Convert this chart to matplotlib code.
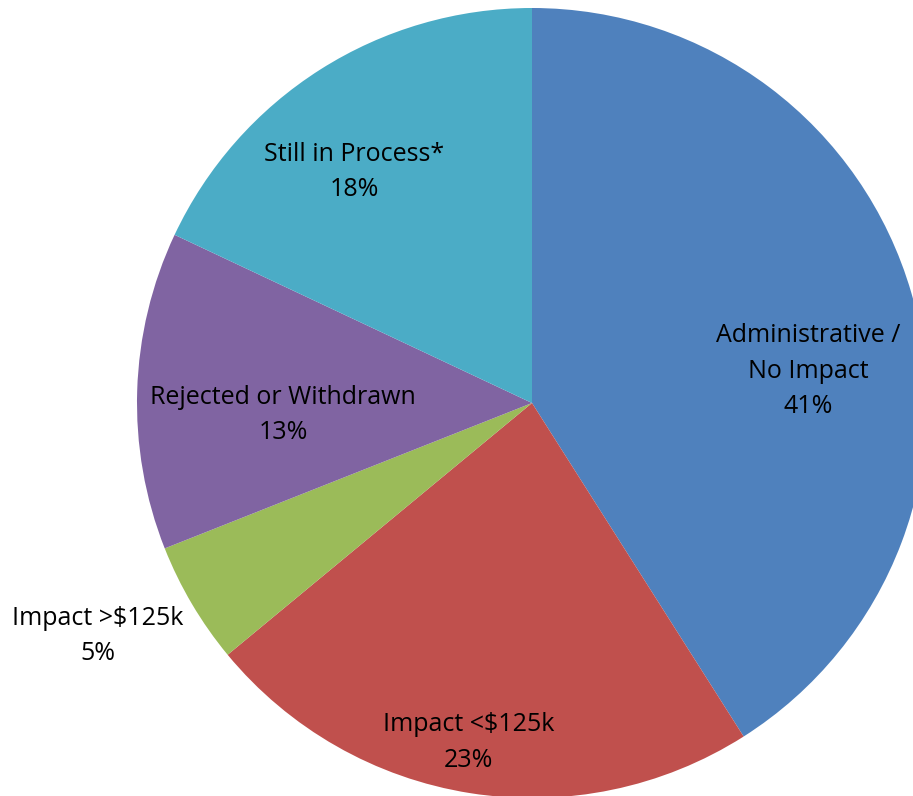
import matplotlib
matplotlib.use("Agg")
import matplotlib.pyplot as plt

# slice data, clockwise from 12 o'clock
labels = ["Administrative /\nNo Impact", "Impact <$125k", "Impact >$125k",
          "Rejected or Withdrawn", "Still in Process*"]
shares = [41, 23, 5, 13, 18]
colors = ["#4F81BD", "#C0504D", "#9BBB59", "#8064A2", "#4BACC6"]

# where each label sits (data units, pie radius = 1)
label_x = [0.70, -0.16, -1.10, -0.63, -0.45]
label_y = [0.08, -0.86, -0.59, -0.03, 0.585]

plt.rcParams['font.family'] = ['Open Sans', 'DejaVu Sans']

fig = plt.figure(figsize=(9.13, 7.96), dpi=100)
# pie centre at ~(532, 403) px, radius ~395 px
ax = fig.add_axes([137 / 913, -2 / 796, 790 / 913, 790 / 796])
ax.pie(shares, colors=colors, startangle=90, counterclock=False, radius=1,
       wedgeprops=dict(linewidth=0))
ax.set_xlim(-1, 1)
ax.set_ylim(-1, 1)
ax.set_aspect('auto')
ax.axis('off')

for lab, pct, x, y in zip(labels, shares, label_x, label_y):
    ax.text(x, y, "{}\n{}%".format(lab, pct), ha='center', va='center',
            fontsize=18, color='black', linespacing=1.55, clip_on=False)

fig.savefig("out.png", dpi=100)
